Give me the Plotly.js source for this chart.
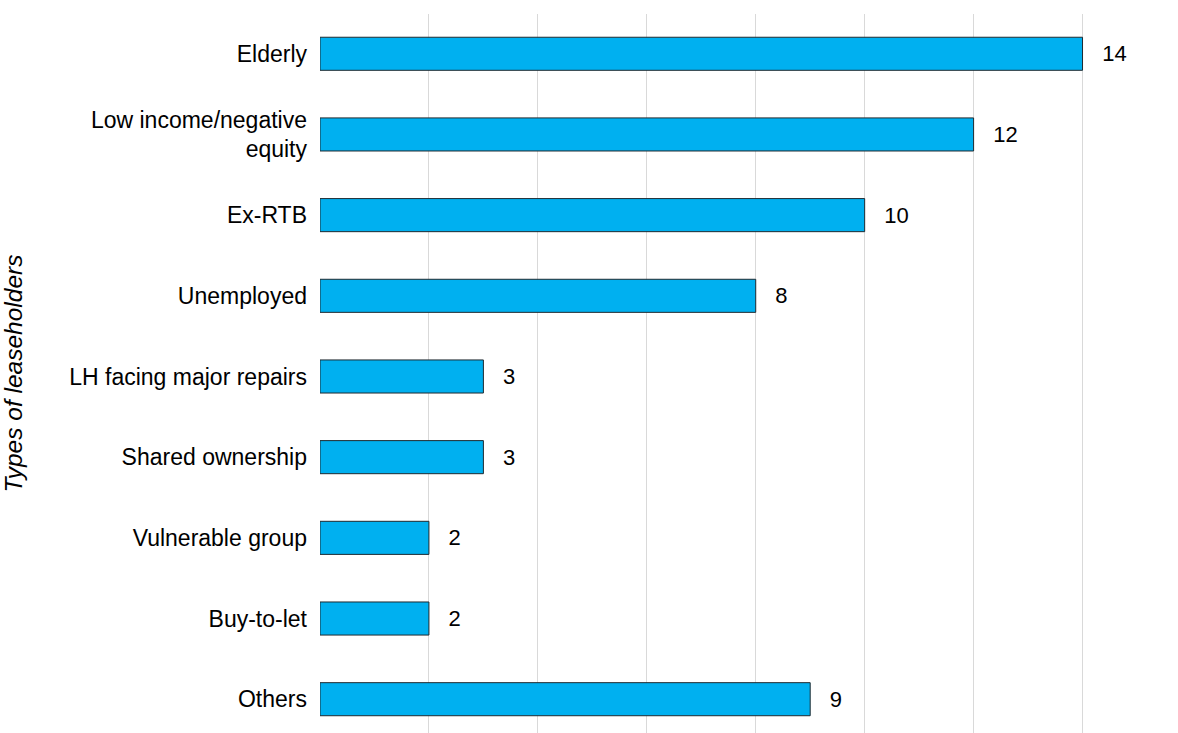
<!DOCTYPE html>
<html>
<head>
<meta charset="utf-8">
<script src="https://cdn.plot.ly/plotly-3.0.1.min.js"></script>
<style>
  html, body { margin: 0; padding: 0; background: #ffffff; }
  #chart { width: 1178px; height: 733px; }
</style>
</head>
<body>
<div id="chart"></div>
<script>
const categories = [
  "Elderly",
  "Low income/negative<br>equity",
  "Ex-RTB",
  "Unemployed",
  "LH facing major repairs",
  "Shared ownership",
  "Vulnerable group",
  "Buy-to-let",
  "Others"
];
const counts = [14, 12, 10, 8, 3, 3, 2, 2, 9];
const yAxisTitle = "Types of leaseholders";

const trace = {
  type: "bar",
  orientation: "h",
  x: counts,
  y: categories,
  width: 0.41,
  marker: { color: "#00B0F0", line: { color: "#1f2a30", width: 1 } },
  text: counts.map(v => "\u00a0\u00a0\u2009" + v),
  textposition: "outside",
  constraintext: "none",
  cliponaxis: false,
  textfont: { family: "Liberation Sans, Arial, sans-serif", size: 22, color: "#000000" },
  hoverinfo: "skip"
};

const layout = {
  width: 1178,
  height: 733,
  margin: { l: 320, r: 41, t: 14, b: 0, pad: 0 },
  paper_bgcolor: "#ffffff",
  plot_bgcolor: "#ffffff",
  font: { family: "Liberation Sans, Arial, sans-serif", size: 23, color: "#000000" },
  showlegend: false,
  xaxis: {
    range: [0, 15],
    dtick: 2,
    tick0: 0,
    showgrid: true,
    gridcolor: "#d9d9d9",
    gridwidth: 1,
    zeroline: false,
    showticklabels: false,
    showline: false,
    ticks: "",
    fixedrange: true
  },
  yaxis: {
    type: "category",
    categoryorder: "array",
    categoryarray: categories,
    range: [8.419, -0.493],
    showgrid: false,
    zeroline: false,
    showline: false,
    ticks: "",
    ticklabelstandoff: 12,
    tickfont: { family: "Liberation Sans, Arial, sans-serif", size: 23, color: "#000000" },
    title: {
      text: yAxisTitle,
      font: { family: "Liberation Sans, Arial, sans-serif", size: 24.5, color: "#000000", style: "italic" },
      standoff: 42
    },
    fixedrange: true
  }
};

Plotly.newPlot("chart", [trace], layout, { displayModeBar: false, staticPlot: true });
</script>
</body>
</html>
